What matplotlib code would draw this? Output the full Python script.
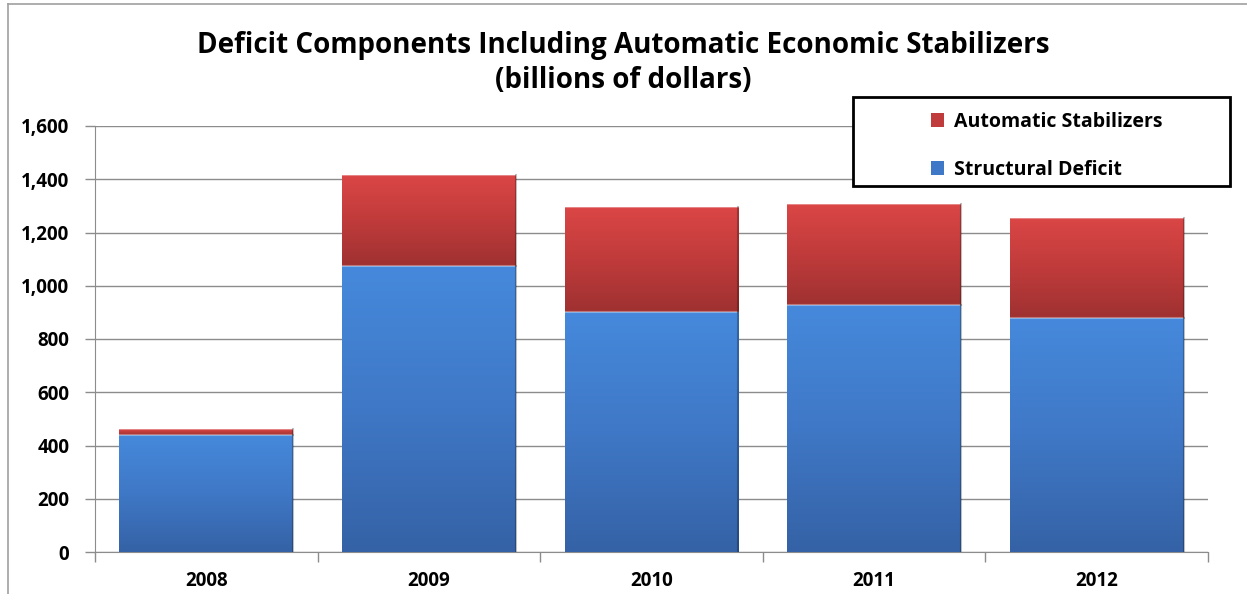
import numpy as np
import matplotlib
matplotlib.use("Agg")
import matplotlib.pyplot as plt
from matplotlib.colors import LinearSegmentedColormap
from matplotlib.patches import Patch, Rectangle
from matplotlib.lines import Line2D
from matplotlib.ticker import FuncFormatter, FixedLocator

plt.rcParams['font.family'] = ['Open Sans', 'DejaVu Sans']
plt.rcParams['font.weight'] = 'bold'

# data (billions of dollars)
years = ["2008", "2009", "2010", "2011", "2012"]
structural = [440, 1075, 902, 928, 880]
automatic = [22, 340, 394, 378, 376]

blue_cmap = LinearSegmentedColormap.from_list("b", ["#3562a6", "#3f78c6", "#4689dc"])
red_cmap = LinearSegmentedColormap.from_list("r", ["#9f3131", "#c03b3b", "#db4646"])

fig = plt.figure(figsize=(12.47, 5.94), dpi=100)
ax = fig.add_axes([95 / 1247, 1 - 552 / 594, (1208 - 95) / 1247, (552 - 126) / 594])

x = np.arange(len(years))
width = 0.78
b1 = ax.bar(x, structural, width, color="#3f78c6", zorder=2, edgecolor="none")
b2 = ax.bar(x, automatic, width, bottom=structural, color="#c03b3b", zorder=2, edgecolor="none")

# vertical gradient in each bar segment
grad = np.linspace(0, 1, 256).reshape(-1, 1)
for bars, cmap in [(b1, blue_cmap), (b2, red_cmap)]:
    for r in bars:
        x0, y0, w, h = r.get_x(), r.get_y(), r.get_width(), r.get_height()
        im = ax.imshow(grad, extent=(x0, x0 + w, y0, y0 + h), origin="lower",
                       aspect="auto", cmap=cmap, zorder=3)
        im.set_clip_path(r)
        # thin light top edge and dark right edge, like the bevel
        ax.plot([x0, x0 + w], [y0 + h, y0 + h], color="white", alpha=0.35, lw=1.5, zorder=4)
        ax.plot([x0 + w, x0 + w], [y0, y0 + h], color="black", alpha=0.25, lw=1.5, zorder=4)

ax.set_xlim(-0.5, len(years) - 0.5)
ax.set_ylim(0, 1600)
ax.set_yticks(np.arange(0, 1601, 200))
ax.yaxis.set_major_formatter(FuncFormatter(lambda v, p: f"{int(v):,}"))
ax.set_xticks(x)
ax.set_xticklabels(years)
ax.xaxis.set_minor_locator(FixedLocator(np.arange(-0.5, len(years), 1.0)))

ax.grid(axis="y", color="#8c8c8c", lw=1, zorder=0)
ax.set_axisbelow(True)
ax.tick_params(axis="x", which="major", length=0, pad=14, labelsize=13.5)
ax.tick_params(axis="x", which="minor", length=7, color="#8c8c8c", width=1)
ax.tick_params(axis="y", length=7, color="#8c8c8c", width=1, labelsize=13.5, pad=11.5)
for t in ax.get_xticklabels() + ax.get_yticklabels():
    t.set_fontweight("bold")
for s in ["top", "right"]:
    ax.spines[s].set_visible(False)
for s in ["left", "bottom"]:
    ax.spines[s].set_color("#8c8c8c")

fig.text(0.5, 1 - 45 / 594, "Deficit Components Including Automatic Economic Stabilizers",
         ha="center", va="center", fontsize=20, fontweight="bold")
fig.text(0.5, 1 - 81 / 594, "(billions of dollars)",
         ha="center", va="center", fontsize=20, fontweight="bold")

# outer chart border (left and top only are visible)
fig.add_artist(Line2D([8 / 1247, 8 / 1247], [0, 1 - 4 / 594], transform=fig.transFigure,
                      color="#a0a0a0", lw=1.2))
fig.add_artist(Line2D([8 / 1247, 1], [1 - 4 / 594, 1 - 4 / 594], transform=fig.transFigure,
                      color="#a0a0a0", lw=1.2))

# legend box
fig.add_artist(Rectangle((853 / 1247, 1 - 186 / 594), (1230 - 853) / 1247, 89 / 594,
                         transform=fig.transFigure, facecolor="white", edgecolor="black",
                         lw=2, zorder=5))
handles = [Patch(facecolor="#c03b3b", edgecolor="none"), Patch(facecolor="#3f78c6", edgecolor="none")]
leg = fig.legend(handles, ["Automatic Stabilizers", "Structural Deficit"],
                 loc="upper left", bbox_to_anchor=(921 / 1247, 1 - 102 / 594),
                 frameon=False, handlelength=0.7, handleheight=0.7,
                 handletextpad=0.5, labelspacing=1.45, borderpad=0,
                 prop={"weight": "bold", "size": 14})
leg.set_zorder(6)

fig.savefig("out.png", dpi=100)
